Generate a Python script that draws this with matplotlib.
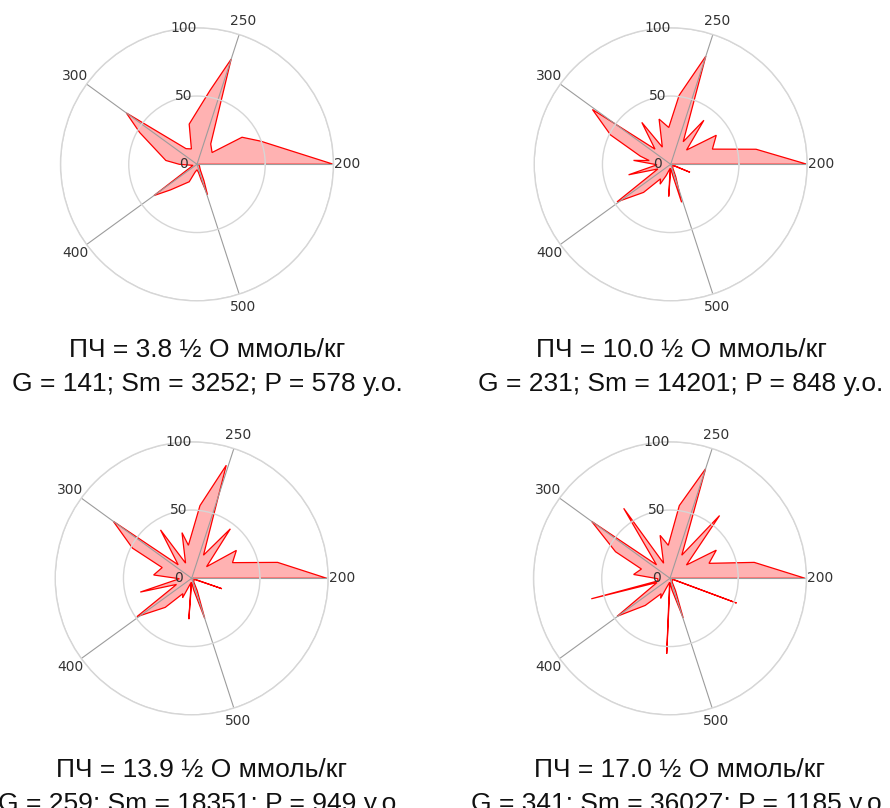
# four polar "spectra" with caption under each

import numpy as np
import matplotlib
matplotlib.use('Agg')
from matplotlib import pyplot as plt

W, H = 890, 808

spoke_labels = ['200', '250', '300', '400', '500']
spoke_angles = [0, 72, 144, 216, 288]
ring_values = [0, 50, 100]

# vertices: angle (deg), value (0..100)
ang_1 = [0, 20, 31, 38, 56, 72, 80, 101, 110, 125, 144, 151, 173, 180, 195,
         216, 224, 246, 256, 270, 280, 285, 289, 293, 300, 330, 359]
val_1 = [100, 49.6, 38.5, 14, 18, 81, 55, 30, 12, 14, 64, 48, 23, 13, 3,
         39, 27, 14, 6, 4, 6, 12, 23.6, 13, 5, 2, 1]

ang_2 = [0, 10, 20, 32.5, 42, 53, 61, 72, 83, 93, 104.4, 116, 124.6, 136,
         145, 154, 165, 170, 174, 182, 194, 200, 215, 226, 235, 242, 248,
         262, 266.5, 271, 280, 286, 292, 300, 334, 337.5, 341, 359]
val_2 = [100, 63.5, 32.5, 39.6, 15.6, 40.4, 18.9, 83.3, 51, 27, 34.2, 14,
         37.3, 16, 70, 49, 23, 16, 27.4, 10, 31.8, 10, 48, 28.6, 13, 16.5, 9,
         3, 23.6, 3, 8, 29, 10, 3, 2, 15.3, 2, 1]

ang_3 = [0, 10.5, 21, 32, 38, 52, 63, 73, 83.5, 95.7, 102, 112, 122.8, 135,
         144, 153, 160, 175, 182, 195, 202, 215, 227.7, 240, 245, 250, 263,
         266, 269, 280, 288, 294, 300, 338, 341, 344, 359]
val_3 = [99, 64, 32, 38.6, 13.8, 46, 19, 86.6, 53.6, 24.3, 34.2, 12, 42.2,
         14, 71, 48.7, 23, 28, 9, 39, 12, 49, 28.8, 13, 15.8, 7, 3, 30, 3, 9,
         31, 10, 3, 2, 23.4, 2, 1]

ang_4 = [0, 10.7, 21, 31.3, 39, 51.7, 63, 72, 82.7, 93, 103, 113, 123.5,
         135, 144, 154, 162, 174, 182, 192, 194.6, 198, 215.7, 227.6, 240,
         245, 250, 264, 267.5, 270, 280, 288.4, 294, 300, 337, 339.6, 342,
         359]
val_4 = [99, 62.8, 30.6, 39.7, 15.5, 58.6, 19, 84.4, 53.7, 24.2, 32.3, 12,
         61.5, 14, 71, 44.4, 22, 26.8, 9, 9, 59.6, 10, 47.7, 26.9, 13, 16.3,
         7, 3, 55.3, 3, 9, 30.6, 10, 3, 2, 52, 2, 1]

angles = [ang_1, ang_2, ang_3, ang_4]
values = [val_1, val_2, val_3, val_4]

titles = ['ПЧ = 3.8 ½ O ммоль/кг', 'ПЧ = 10.0 ½ O ммоль/кг',
          'ПЧ = 13.9 ½ O ммоль/кг', 'ПЧ = 17.0 ½ O ммоль/кг']
subtitles = ['G = 141; Sm = 3252; P = 578 у.о.',
             'G = 231; Sm = 14201; P = 848 у.о.',
             'G = 259; Sm = 18351; P = 949 у.о.',
             'G = 341; Sm = 36027; P = 1185 у.о.']

# layout in pixels
R = 136.5
centers = [(197, 164.3), (670.7, 164.3), (191.7, 578.3), (670, 578.3)]
text_x = [207, 681, 201, 680]
base_y = [(357, 391), (357, 391), (777, 811), (777, 811)]

fig = plt.figure(figsize=(W / 100, H / 100), dpi=100)
fig.patch.set_facecolor('white')

for i in range(4):
    cx, cy = centers[i]
    ax = fig.add_axes([(cx - R) / W, 1 - (cy + R) / H, 2 * R / W, 2 * R / H],
                      projection='polar')
    ax.set_ylim(0, 100)
    ax.set_yticks([50, 100])
    ax.set_xticks(np.radians(spoke_angles))
    ax.set_xticklabels([])
    ax.set_yticklabels([])
    ax.tick_params(length=0)
    ax.xaxis.grid(True, color='#9c9c9c', lw=0.8)
    ax.yaxis.grid(True, color='#d6d6d6', lw=1.0)
    ax.spines['polar'].set_color('#d6d6d6')
    ax.spines['polar'].set_linewidth(1.0)

    th = np.radians(angles[i])
    ax.fill(th, values[i], facecolor=(1, 0, 0, 0.3), edgecolor='red',
            lw=0.9, zorder=1)

    for a, lab in zip(spoke_angles, spoke_labels):
        ax.text(np.radians(a), 110, lab, ha='center', va='center',
                fontsize=10, color='#333333', family='DejaVu Sans',
                clip_on=False)
    for r in ring_values:
        ax.annotate(str(r), xy=(np.pi / 2, r), xytext=(-9.4, 0),
                    textcoords='offset points', ha='center', va='center',
                    fontsize=10, color='#333333', family='DejaVu Sans')

    fig.text(text_x[i] / W, 1 - base_y[i][0] / H, titles[i], ha='center',
             va='baseline', fontsize=19, family='Liberation Sans',
             color='#111111')
    fig.text(text_x[i] / W, 1 - base_y[i][1] / H, subtitles[i], ha='center',
             va='baseline', fontsize=19, family='Liberation Sans',
             color='#111111')

fig.savefig('out.png', dpi=100, facecolor='white')
